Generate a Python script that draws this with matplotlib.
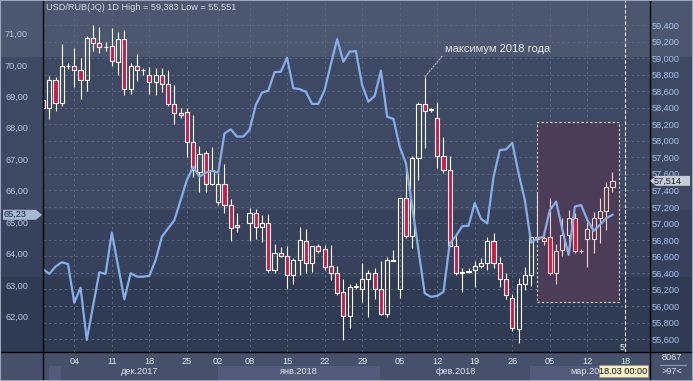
import numpy as np
import matplotlib
matplotlib.use("Agg")
import matplotlib.pyplot as plt
import matplotlib.transforms as mtrans
from matplotlib.patches import Rectangle, Polygon
from matplotlib.lines import Line2D
from matplotlib.ticker import FuncFormatter

plt.rcParams['font.family'] = ['Liberation Sans', 'DejaVu Sans']

# USD/RUB daily candles, x = bar number (0 = 04 Dec 2017, bar 27 has no candle)
bar_idx = list(range(-5, 27)) + list(range(28, 87))
opens = [58.49, 58.39, 58.73, 58.46, 58.90, 58.91, 58.86, 58.74, 59.24, 59.18,
         59.13, 59.15, 58.95, 59.23, 58.62, 58.90, 58.85, 58.79, 58.71, 58.79,
         58.69, 58.45, 58.34, 58.35, 57.99, 57.62, 57.85, 57.48, 57.26, 57.48,
         57.22, 56.98,
         57.00, 57.12, 56.95, 57.00, 56.43, 56.64, 56.61, 56.37, 56.56, 56.79,
         56.52, 56.73, 56.69, 56.48, 56.40, 56.17, 55.88, 56.23, 56.20, 56.33,
         56.40, 56.21, 55.90, 56.55, 56.20, 57.31, 56.85, 57.79, 58.44, 58.37,
         58.28, 57.81, 57.65, 56.72, 56.40, 56.41, 56.43, 56.48, 56.52, 56.79,
         56.52, 56.33, 56.10, 55.72, 56.26, 56.37, 56.81, 56.82, 56.83, 56.40,
         56.68, 56.86, 57.07, 56.66, 56.81, 56.81, 57.06, 57.15, 57.44]
highs = [58.52, 58.78, 58.77, 59.17, 58.94, 59.12, 59.00, 59.27, 59.40, 59.38,
         59.19, 59.36, 59.31, 59.34, 58.94, 59.05, 58.88, 58.89, 58.88, 58.88,
         58.86, 58.68, 58.39, 58.40, 58.31, 57.94, 57.87, 57.93, 57.61, 57.72,
         57.29, 57.13,
         57.18, 57.17, 57.10, 57.11, 56.75, 56.71, 56.73, 56.58, 56.95, 56.93,
         56.73, 56.75, 56.74, 56.74, 56.48, 56.33, 56.27, 56.28, 56.52, 56.44,
         56.46, 56.54, 56.59, 56.68, 57.31, 57.65, 57.81, 58.47, 58.77, 58.40,
         58.47, 58.04, 57.81, 56.88, 56.46, 56.46, 56.55, 56.58, 56.83, 56.88,
         56.59, 56.40, 56.14, 56.34, 56.47, 56.84, 57.38, 56.85, 57.31, 56.75,
         57.06, 57.16, 57.12, 56.69, 57.02, 57.14, 57.31, 57.50, 57.62]
lows = [58.30, 58.26, 58.36, 58.42, 58.87, 58.65, 58.51, 58.60, 59.08, 59.06,
        59.09, 58.91, 58.79, 58.55, 58.56, 58.72, 58.79, 58.57, 58.55, 58.59,
        58.42, 58.20, 58.28, 57.80, 57.56, 57.38, 57.38, 57.46, 57.22, 57.12,
        56.79, 56.90,
        56.79, 56.81, 56.77, 56.41, 56.40, 56.59, 56.21, 56.27, 56.37, 56.40,
        56.41, 56.64, 56.43, 56.31, 56.13, 55.59, 55.73, 56.21, 56.05, 55.87,
        56.09, 55.89, 55.87, 56.54, 56.10, 56.82, 56.70, 57.52, 57.91, 58.35,
        57.67, 57.61, 56.72, 56.37, 56.17, 56.40, 56.23, 56.46, 56.43, 56.46,
        56.23, 56.08, 55.70, 55.55, 56.19, 56.24, 56.79, 56.74, 56.37, 56.27,
        56.60, 56.66, 56.64, 56.64, 56.47, 56.64, 56.76, 56.92, 57.38]
closes = [58.39, 58.73, 58.46, 58.90, 58.91, 58.86, 58.74, 59.24, 59.18, 59.13,
          59.14, 58.97, 59.23, 58.62, 58.90, 58.85, 58.86, 58.71, 58.79, 58.69,
          58.45, 58.34, 58.31, 57.99, 57.65, 57.84, 57.48, 57.64, 57.48, 57.22,
          56.94, 56.95,
          57.12, 56.95, 57.01, 56.44, 56.64, 56.61, 56.37, 56.56, 56.80, 56.52,
          56.73, 56.66, 56.47, 56.40, 56.16, 55.88, 56.23, 56.24, 56.33, 56.40,
          56.21, 55.90, 56.56, 56.56, 57.31, 56.85, 57.79, 58.45, 58.36, 58.38,
          57.81, 57.65, 56.73, 56.40, 56.41, 56.42, 56.48, 56.52, 56.79, 56.52,
          56.33, 56.13, 55.73, 56.26, 56.37, 56.83, 56.84, 56.79, 56.40, 56.67,
          56.86, 57.07, 56.66, 56.67, 56.93, 57.06, 57.15, 57.44, 57.514]

# second series on the left scale, one value per bar
line_idx = list(range(-5, 87))
line_vals = [63.50, 63.35, 63.58, 63.72, 63.66, 62.43, 62.91, 61.25, 62.33, 63.40,
             63.35, 64.66, 63.60, 62.54, 63.37, 63.26, 63.26, 63.29, 63.79, 64.53,
             64.80, 65.06, 65.70, 66.34, 66.76, 66.44, 66.57, 66.63, 66.57, 67.82,
             67.95, 67.72, 67.72, 67.93, 68.72, 69.12, 69.18, 69.77, 69.78, 70.23,
             69.26, 69.23, 69.15, 68.76, 68.76, 69.20, 70.02, 70.82, 70.10, 70.42,
             70.44, 69.36, 68.83, 69.01, 69.82, 68.35, 68.28, 67.40, 66.87, 65.49,
             64.11, 62.73, 62.62, 62.65, 62.78, 64.32, 64.56, 64.87, 64.88, 65.60,
             65.10, 64.96, 66.44, 67.29, 67.31, 67.52, 66.55, 65.70, 64.34, 64.48,
             64.53, 65.38, 65.65, 64.75, 63.95, 65.49, 65.54, 65.06, 64.72, 64.91,
             65.12, 65.23]

date_ticks = [0, 6, 12, 18, 23, 28, 34, 40, 46, 52, 58, 64, 70, 76, 82, 88]
date_labels = ['04', '11', '18', '25', '02', '08', '15', '22', '29', '05',
               '12', '19', '26', '05', '12', '18']
month_starts = [-2, 23, 49, 73]
month_labels = ['дек.2017', 'янв.2018', 'фев.2018', 'мар.2018']
left_ticks = [62, 63, 64, 65, 66, 67, 68, 69, 70, 71]
right_ticks = [55.6, 55.8, 56.0, 56.2, 56.4, 56.6, 56.8, 57.0, 57.2, 57.4,
               57.6, 57.8, 58.0, 58.2, 58.4, 58.6, 58.8, 59.0, 59.2, 59.4]

# highlighted zone and the annotated maximum
box_x = (74.0, 87.05)
box_y = (56.05, 58.23)
max_bar = 56

W, H = 693, 381
fig = plt.figure(figsize=(W / 100, H / 100), dpi=100)
fig.patch.set_facecolor('#45516b')


def fx(px):
    return px / W


def fy(py):
    return 1 - py / H


# banded background behind the panels
for y0, y1, col in [(0, 57, '#4b576f'), (57, 210, '#3d4963'),
                    (210, 277, '#36425c'), (277, 352, '#2f3a53')]:
    fig.add_artist(Rectangle((0, fy(y1)), 1, fy(y0) - fy(y1), transform=fig.transFigure,
                             fc=col, ec='none', zorder=-10))

ax = fig.add_axes([fx(43), fy(352), fx(650) - fx(43), fy(0) - fy(352)])
ax.set_facecolor('none')
ax2 = ax.twinx()

ax.set_xlim(-5, 92)
ax.set_ylim(55.443, 59.703)
ax2.set_ylim(60.863, 72.066)

ax.set_axisbelow(True)
ax.grid(True, color='#5b6782', lw=0.7, ls=(0, (2.5, 3)))

ax.add_patch(Rectangle((box_x[0], box_y[0]), box_x[1] - box_x[0], box_y[1] - box_y[0],
                       fc='#4b3d58', ec='#e8e8e8', lw=0.8, ls=(0, (2, 2)), zorder=1))
ax.axvline(88, color='white', lw=0.8, ls=(0, (3, 2)), zorder=4)

# candles
x = np.array(bar_idx)
o = np.array(opens)
h = np.array(highs)
l = np.array(lows)
c = np.array(closes)
top = np.maximum(o, c)
bot = np.minimum(o, c)
edge = ['#f6d2c9' if b >= box_x[0] else 'white' for b in bar_idx]
face = ['#e3123d' if cc < oo else 'none' for oo, cc in zip(opens, closes)]
ax.vlines(x, top, h, colors=edge, lw=0.8, zorder=2)
ax.vlines(x, l, bot, colors=edge, lw=0.8, zorder=2)
ax.bar(x, top - bot, bottom=bot, width=0.66, color=face, edgecolor=edge,
       linewidth=0.8, zorder=3)

ax2.plot(line_idx, line_vals, color='#86aee8', lw=1.6, zorder=5)

ax.annotate('максимум 2018 года', xy=(max_bar, highs[bar_idx.index(max_bar)]),
            xytext=(59.2, 59.11), color='#ececec', fontsize=8, va='center', ha='left',
            arrowprops=dict(arrowstyle='-', ls=(0, (1, 1.5)), color='#b8bcc4', lw=0.9,
                            shrinkA=0, shrinkB=0, relpos=(0, 0.1)))
ax.text(87.6, 0.014, '5', transform=mtrans.blended_transform_factory(ax.transData, ax.transAxes),
        color='white', fontsize=6.5, ha='center', va='center')

# axes ticks
ax.set_xticks(date_ticks)
ax.set_xticklabels(date_labels)
ax.tick_params(axis='x', length=0, pad=3.6, labelsize=6.6, labelcolor='#e3e8f0')
ax.set_yticks(right_ticks)
ax.yaxis.set_major_formatter(FuncFormatter(lambda v, p: f'{v:.3f}'.replace('.', ',')))
ax.yaxis.tick_right()
ax.tick_params(axis='y', length=0, pad=1.5, labelsize=6.6, labelcolor='#a9c4ef')
ax2.set_yticks(left_ticks)
ax2.yaxis.set_major_formatter(FuncFormatter(lambda v, p: f'{v:.2f}'.replace('.', ',')))
ax2.yaxis.tick_left()
ax2.tick_params(axis='y', length=0, pad=10.8, labelsize=6.6, labelcolor='#b7cae6')
for a in (ax, ax2):
    for s in a.spines.values():
        s.set_visible(False)

# month strip under the dates; the last label runs under the cursor date box
bt = mtrans.blended_transform_factory(ax.transData, fig.transFigure)
edges = [-4] + [m - 0.1 for m in month_starts] + [92]
for k in range(len(edges) - 1):
    if k % 2 == 0:
        fig.add_artist(Rectangle((edges[k], fy(381)), edges[k + 1] - edges[k], fy(366) - fy(381),
                                 transform=bt, fc='#505c7a', ec='none', zorder=-5))
strip_clip = mtrans.TransformedBbox(mtrans.Bbox([[0, 0], [fx(599), 1]]), fig.transFigure)
for k, lab in enumerate(month_labels):
    xm = (edges[k + 1] + edges[k + 2]) / 2
    t = ax.text(xm, fy(372), lab, transform=bt, ha='center', va='center', fontsize=6.6,
                color='#dfe5ee')
    t.set_clip_box(strip_clip)
    t.set_clip_on(True)

# frame lines
for x0, y0, x1, y1 in [(0, 352, W, 352), (43, 0, 43, H), (650, 0, 650, H)]:
    fig.add_artist(Line2D([fx(x0), fx(x1)], [fy(y0), fy(y1)], transform=fig.transFigure,
                          color='black', lw=1, zorder=10))

fig.text(fx(45.5), fy(8), 'USD/RUB(JQ) 1D High = 59,383 Low = 55,551', ha='left', va='center',
         fontsize=6.6, color='#d7dde8')

# last value markers
py = H - ax2.transData.transform((0, line_vals[-1]))[1]
pts = [(3, py - 5), (36, py - 5), (42, py), (36, py + 5), (3, py + 5)]
fig.add_artist(Polygon([(fx(a), fy(b)) for a, b in pts], closed=True, transform=fig.transFigure,
                       fc='#a6bad6', ec='none', zorder=11))
fig.text(fx(4), fy(py), f'{line_vals[-1]:.2f}'.replace('.', ','), ha='left', va='center',
         fontsize=6.6, color='#18202e', zorder=12)

py = H - ax.transData.transform((0, closes[-1]))[1]
pts = [(650, py), (656, py - 5), (690, py - 5), (690, py + 5), (656, py + 5)]
fig.add_artist(Polygon([(fx(a), fy(b)) for a, b in pts], closed=True, transform=fig.transFigure,
                       fc='#c8ccd5', ec='none', zorder=11))
fig.text(fx(654), fy(py), f'{closes[-1]:.3f}'.replace('.', ','), ha='left', va='center',
         fontsize=6.6, color='#18202e', zorder=12)

# cursor date box and corner counters
fig.add_artist(Rectangle((fx(599), fy(377)), fx(648) - fx(599), fy(365) - fy(377),
                         transform=fig.transFigure, fc='#f4f0c2', ec='#9a9a80', lw=0.5, zorder=11))
fig.text(fx(623.5), fy(371), '18.03 00:00', ha='center', va='center', fontsize=6.6,
         color='#111111', zorder=12)
fig.text(fx(672), fy(357), '8067', ha='center', va='center', fontsize=6.6, color='#dde4f0')
fig.text(fx(672), fy(372), '>97<', ha='center', va='center', fontsize=6.6, color='#dde4f0')
fig.add_artist(Line2D([fx(660), fx(686)], [fy(365), fy(365)], transform=fig.transFigure,
                      color='#8e9ab0', lw=0.8))

fig.add_artist(Rectangle((0, 0), 1, 1, transform=fig.transFigure, fill=False,
                         ec='#9ba6b8', lw=1.5, zorder=20))

fig.savefig('out.png', dpi=100)
